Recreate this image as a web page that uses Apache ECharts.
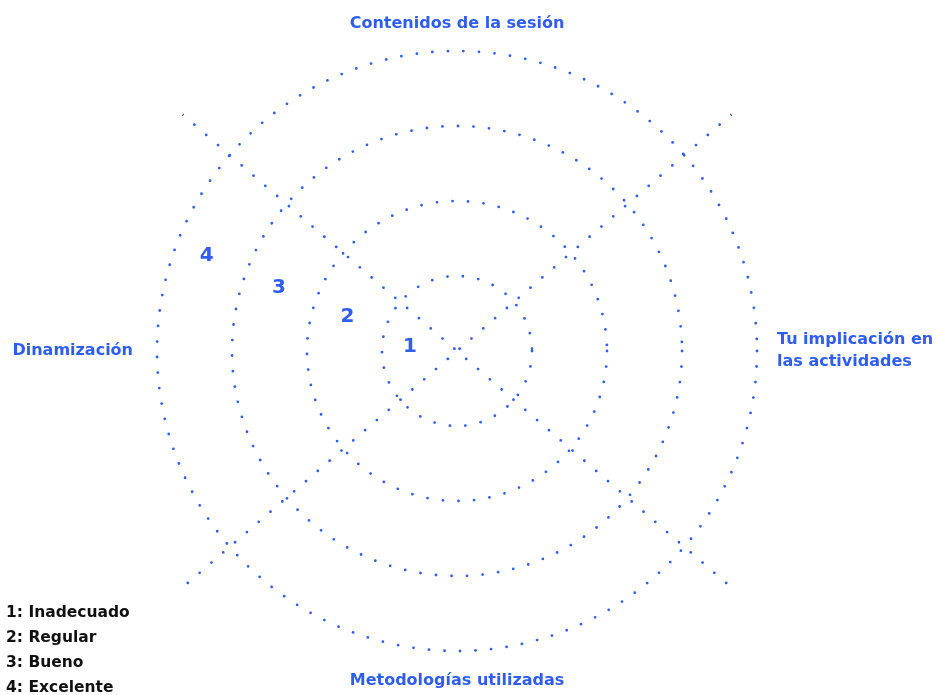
<!DOCTYPE html>
<html>
<head>
<meta charset="utf-8">
<script src="https://cdn.jsdelivr.net/npm/echarts@6/dist/echarts.min.js"></script>
<style>
  html, body { margin: 0; padding: 0; background: #fff; }
  #echart { width: 941px; height: 695px; }
</style>
</head>
<body>
<div id="echart"></div>
<script>
// ejes (nombres a 0, 90, 180, 270 grados)
var axisNames = ['Tu implicación en\nlas actividades', 'Contenidos de la sesión', 'Dinamización', 'Metodologías utilizadas'];
// niveles de la escala
var levels = ['1', '2', '3', '4'];
var levelRadius = [0.63, 1.53, 2.52, 3.57];
var levelAngle = [174.8, 162.6, 160.4, 159.2];
// diagonales (angulo de cada extremo) y su alcance
var diagAngles = [[139.25, 319.25], [40.75, 220.75]];
var diagReach = 4.83;
var legendLines = ['1: Inadecuado', '2: Regular', '3: Bueno', '4: Excelente'];

var blue = '#2f5df0';
var font = 'DejaVu Sans';
var ring = 75; // px por nivel
var dotted = { color: blue, width: 2.8, type: [0, 15.6], cap: 'round' };
var nameTags = ['r', 't', 'l', 'b'];

var myChart = echarts.init(document.getElementById('echart'));
var option = {
    animation: false,
    title: {
        text: legendLines.join('\n'),
        left: 6,
        top: 600,
        padding: 0,
        textStyle: {
            fontFamily: font,
            fontSize: 15.5,
            fontWeight: 'bold',
            lineHeight: 25,
            color: '#111'
        }
    },
    polar: {
        center: [457, 351],
        radius: ring * diagReach
    },
    angleAxis: {
        type: 'value',
        min: 0,
        max: 360,
        interval: 90,
        startAngle: 0,
        clockwise: false,
        axisLine: { show: false },
        axisTick: { show: false },
        splitLine: { show: false },
        axisLabel: {
            margin: 20 - ring * (diagReach - 4),
            color: blue,
            fontFamily: font,
            fontSize: 16,
            fontWeight: 'bold',
            formatter: function (v) {
                if (v >= 360) return '';
                var tag = nameTags[v / 90];
                return axisNames[v / 90].split('\n').map(function (s) {
                    return '{' + tag + '|' + s + '}';
                }).join('\n');
            },
            rich: {
                r: { lineHeight: 22 },
                t: { lineHeight: 15 },
                l: { lineHeight: 20, padding: [0, 4, 0, 0] },
                b: { lineHeight: 20 }
            }
        }
    },
    radiusAxis: {
        type: 'value',
        min: 0,
        max: diagReach,
        interval: 1,
        axisLine: { show: false },
        axisTick: { show: false },
        axisLabel: { show: false },
        splitLine: {
            show: true,
            lineStyle: {
                color: ['rgba(0,0,0,0)', blue, blue, blue, blue, 'rgba(0,0,0,0)'],
                width: dotted.width,
                type: dotted.type,
                cap: dotted.cap
            }
        }
    },
    series: diagAngles.map(function (a) {
        return {
            type: 'line',
            coordinateSystem: 'polar',
            symbol: 'none',
            silent: true,
            lineStyle: dotted,
            data: [[diagReach, a[0]], [diagReach, a[1]]]
        };
    }).concat([{
        type: 'scatter',
        coordinateSystem: 'polar',
        symbolSize: 0,
        itemStyle: { opacity: 1 },
        label: {
            show: true,
            position: 'inside',
            formatter: '{b}',
            color: blue,
            fontFamily: font,
            fontSize: 20,
            fontWeight: 'bold'
        },
        data: levels.map(function (n, i) {
            return { name: n, value: [levelRadius[i], levelAngle[i]] };
        })
    }])
};
myChart.setOption(option);
window.onresize = myChart.resize;
</script>
</body>
</html>
